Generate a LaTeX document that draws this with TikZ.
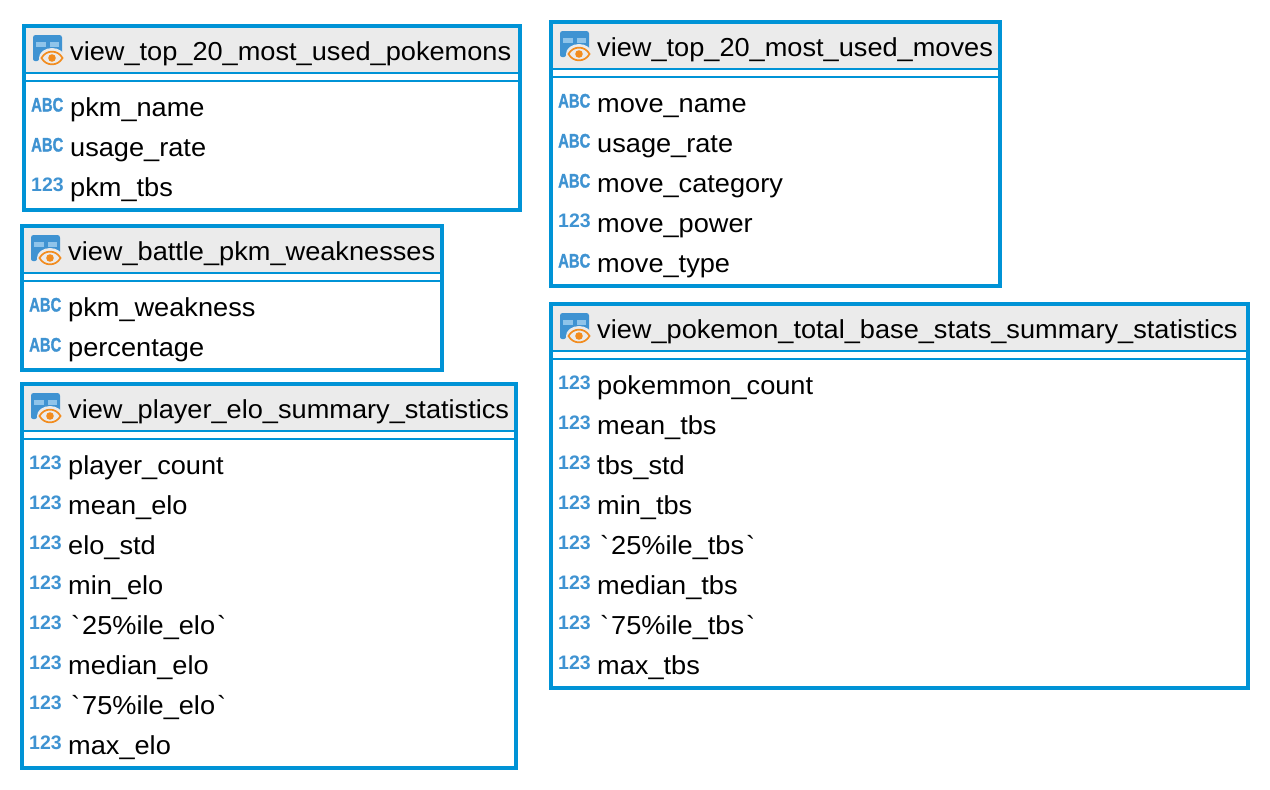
\documentclass[tikz,border=0pt]{standalone}
\usepackage{fontspec}
\setmainfont{Liberation Sans}
\newfontfamily\labelfont[FakeStretch=1.045]{Liberation Sans}
\definecolor{frameblue}{HTML}{0093D6}
\definecolor{iconblue}{HTML}{3F93D2}
\definecolor{cellblue}{HTML}{8FC4EA}
\definecolor{headgray}{HTML}{EBEBEB}
\definecolor{eyeorange}{HTML}{F28C1E}
\newcommand{\fieldsize}{\labelfont\fontsize{26}{30}\selectfont}
\newcommand{\ticked}[1]{\kern3pt`\kern2pt #1\kern2pt`}
\newcommand{\viewbox}[7]{% name, x1, y1, x2, y2, title, rows
  \fill[white] (#2,#3) rectangle (#4,#5);
  \fill[headgray] (#2,#3) rectangle (#4,#3+48);
  \fill[frameblue] (#2,#3+48) rectangle (#4,#3+50);
  \fill[frameblue] (#2,#3+56) rectangle (#4,#3+58);
  \draw[viewframe] (#2+2,#3+2) rectangle (#4-2,#5-2);
  \begin{scope}[shift={(#2,#3)}]
    \fill[iconblue,rounded corners=2.5] (11,11) rectangle (40,33);
    \fill[iconblue,rounded corners=2] (11,28) rectangle (17,37);
    \fill[cellblue] (14,18) rectangle (24,23);
    \fill[cellblue] (28,18) rectangle (37,23);
    \fill[headgray] (30,34) ellipse [x radius=13, y radius=10];
    \draw[eyeorange,line width=1.7] (19.5,34) .. controls (24,25.5) and (36,25.5) .. (40.5,34) .. controls (36,42.5) and (24,42.5) .. (19.5,34) -- cycle;
    \fill[eyeorange] (30,34) circle (3.8);
    \node[titletext] (#1) at (48,36) {#6};
    \foreach \kind/\lab [count=\i from 0] in {#7} {
      \node[rowtext] (#1-\i) at (48,92+40*\i) {\lab};
      \node[kindtext] (#1-k\i) at (9,87.5+40*\i) {\csname kind\kind\endcsname};
    }
  \end{scope}
}
\newcommand{\kindA}{\scalebox{0.76}[1]{\addfontfeature{FakeBold=1.5}ABC}}
\newcommand{\kindN}{123}
\tikzset{
  viewframe/.style={draw=frameblue,line width=4pt},
  titletext/.style={anchor=base west,inner sep=0pt,font=\fieldsize},
  rowtext/.style={anchor=base west,inner sep=0pt,font=\fieldsize},
  kindtext/.style={anchor=base west,inner sep=0pt,text=iconblue,font=\fontsize{19.5}{21}\selectfont\bfseries},
}
\begin{document}
\begin{tikzpicture}[x=1pt,y=-1pt]
\useasboundingbox (0,0) rectangle (1270,790);
\fill[white] (0,0) rectangle (1270,790);
\viewbox{a}{22}{24}{522}{212}{view\_top\_20\_most\_used\_pokemons}{A/pkm\_name,A/usage\_rate,N/pkm\_tbs}
\viewbox{b}{20}{224}{444}{372}{view\_battle\_pkm\_weaknesses}{A/pkm\_weakness,A/percentage}
\viewbox{c}{20}{382}{518}{770}{view\_player\_elo\_summary\_statistics}{N/player\_count,N/mean\_elo,N/elo\_std,N/min\_elo,N/\ticked{25\%ile\_elo},N/median\_elo,N/\ticked{75\%ile\_elo},N/max\_elo}
\viewbox{d}{549}{20}{1002}{288}{view\_top\_20\_most\_used\_moves}{A/move\_name,A/usage\_rate,A/move\_category,N/move\_power,A/move\_type}
\viewbox{e}{549}{302}{1250}{690}{view\_pokemon\_total\_base\_stats\_summary\_statistics}{N/pokemmon\_count,N/mean\_tbs,N/tbs\_std,N/min\_tbs,N/\ticked{25\%ile\_tbs},N/median\_tbs,N/\ticked{75\%ile\_tbs},N/max\_tbs}
\end{tikzpicture}
\end{document}
